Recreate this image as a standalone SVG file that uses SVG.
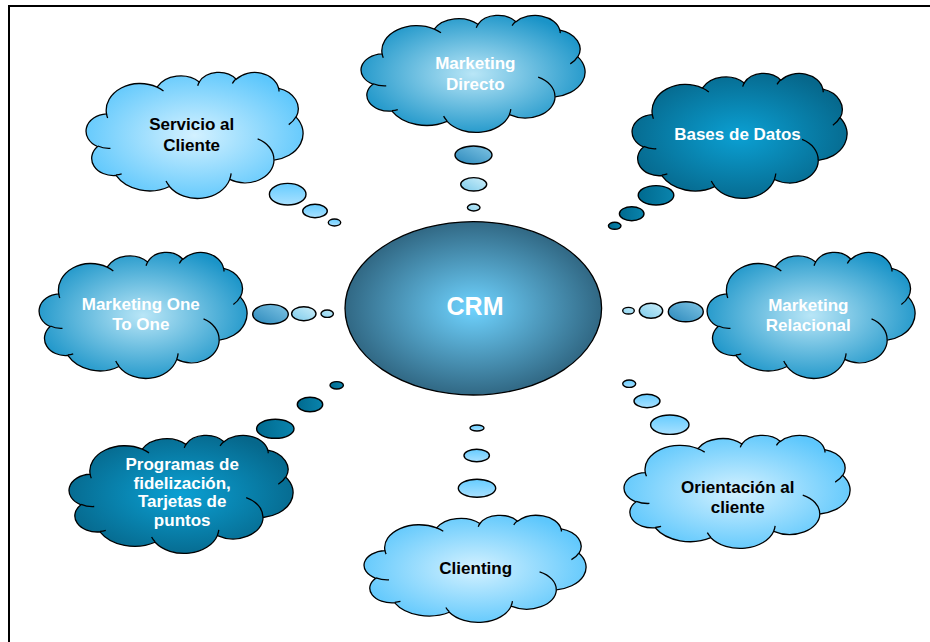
<svg xmlns="http://www.w3.org/2000/svg" width="930" height="642" viewBox="0 0 930 642">
<style>
.cl{stroke:#000;stroke-width:1.3;vector-effect:non-scaling-stroke;}
.cr{fill:none;stroke:#000;stroke-width:1.3;vector-effect:non-scaling-stroke;}
.t{font-family:"Liberation Sans",Arial,sans-serif;font-weight:bold;font-size:17px;text-anchor:middle;}
.w{fill:#fff;}
.k{fill:#000;}
.b{stroke:#000;stroke-width:1.4;}
</style>
<defs>
<radialGradient id="gA" cx="0.5" cy="0.5" r="0.55"><stop offset="0" stop-color="#b9e6f7"/><stop offset="1" stop-color="#1a94c8"/></radialGradient>
<radialGradient id="gB" cx="0.5" cy="0.5" r="0.55"><stop offset="0" stop-color="#d3f1ff"/><stop offset="1" stop-color="#5dc7fc"/></radialGradient>
<radialGradient id="gC" cx="0.5" cy="0.5" r="0.55"><stop offset="0" stop-color="#0ba0d3"/><stop offset="1" stop-color="#06678b"/></radialGradient>
<radialGradient id="gCRM" cx="0.5" cy="0.5" r="0.5"><stop offset="0" stop-color="#6fd3ff"/><stop offset="1" stop-color="#316884"/></radialGradient>
<linearGradient id="bA1" x1="0" y1="1" x2="1" y2="0"><stop offset="0" stop-color="#2a88bb"/><stop offset="1" stop-color="#80c5e5"/></linearGradient>
<linearGradient id="bA2" x1="0" y1="1" x2="1" y2="0"><stop offset="0" stop-color="#7ccaea"/><stop offset="1" stop-color="#cdeffa"/></linearGradient>
<linearGradient id="bA3" x1="0" y1="1" x2="1" y2="0"><stop offset="0" stop-color="#8fd4f0"/><stop offset="1" stop-color="#bde8f7"/></linearGradient>
<linearGradient id="bB" x1="0" y1="0" x2="0" y2="1"><stop offset="0" stop-color="#66ccff"/><stop offset="1" stop-color="#a9e1ff"/></linearGradient>
<linearGradient id="bC" x1="0" y1="0" x2="1" y2="0"><stop offset="0" stop-color="#006a8f"/><stop offset="1" stop-color="#0a84ad"/></linearGradient>
</defs>
<rect x="9" y="6" width="960" height="680" fill="#fff" stroke="#000" stroke-width="2"/>

<g id="connectors">
<ellipse class="b" cx="473.5" cy="155" rx="18.5" ry="9" fill="url(#bA1)"/>
<ellipse class="b" cx="473.7" cy="184.3" rx="13" ry="6.7" fill="url(#bA2)"/>
<ellipse class="b" cx="473.7" cy="207.5" rx="6.3" ry="3.5" fill="url(#bA3)"/>
<ellipse class="b" cx="287.7" cy="194.2" rx="18.3" ry="10.8" fill="url(#bB)"/>
<ellipse class="b" cx="315" cy="211" rx="12.3" ry="6.7" fill="url(#bB)"/>
<ellipse class="b" cx="334.5" cy="222.5" rx="6.2" ry="3.5" fill="url(#bB)"/>
<ellipse class="b" cx="656" cy="195.3" rx="17.8" ry="9.7" fill="url(#bC)"/>
<ellipse class="b" cx="631.7" cy="213.7" rx="12.3" ry="7" fill="url(#bC)"/>
<ellipse class="b" cx="614.7" cy="225.8" rx="6.3" ry="3.5" fill="url(#bC)"/>
<ellipse class="b" cx="270.5" cy="314.2" rx="17.8" ry="9.8" fill="url(#bA1)"/>
<ellipse class="b" cx="303.8" cy="313.7" rx="12.2" ry="7" fill="url(#bA2)"/>
<ellipse class="b" cx="327.2" cy="313.7" rx="6.2" ry="3.7" fill="url(#bA3)"/>
<ellipse class="b" cx="685.8" cy="311.7" rx="17.5" ry="10" fill="url(#bA1)"/>
<ellipse class="b" cx="651" cy="310.8" rx="11.7" ry="7.5" fill="url(#bA2)"/>
<ellipse class="b" cx="628.5" cy="310.7" rx="5.8" ry="3.3" fill="url(#bA3)"/>
<ellipse class="b" cx="275.3" cy="428.8" rx="18.7" ry="9.5" fill="url(#bC)"/>
<ellipse class="b" cx="310" cy="404.5" rx="12.7" ry="7.2" fill="url(#bC)"/>
<ellipse class="b" cx="336.7" cy="385.3" rx="6.7" ry="3.7" fill="url(#bC)"/>
<ellipse class="b" cx="477" cy="488.3" rx="18.7" ry="9" fill="url(#bB)"/>
<ellipse class="b" cx="476.7" cy="455.5" rx="12.7" ry="6.2" fill="url(#bB)"/>
<ellipse class="b" cx="477" cy="428" rx="7" ry="3" fill="url(#bB)"/>
<ellipse class="b" cx="669.8" cy="424.7" rx="19.2" ry="9.7" fill="url(#bB)"/>
<ellipse class="b" cx="647" cy="401" rx="13" ry="6.7" fill="url(#bB)"/>
<ellipse class="b" cx="629.2" cy="383.7" rx="6.5" ry="3.7" fill="url(#bB)"/>
</g>

<g id="crm">
<ellipse cx="473.3" cy="308.3" rx="128.3" ry="86.7" fill="url(#gCRM)" stroke="#000" stroke-width="1.3"/>
<text class="t w" x="475" y="315" style="font-size:25px">CRM</text>
</g>

<g id="marketing-directo">
<g transform="translate(362,15) scale(2.23,1.17)">
<path class="cl" fill="url(#gA)" d="M9.03,33.26A15.63,21.27 0 0 1 32.42,12.04A12.35,16.82 0 0 1 51.98,7.94A10.10,13.76 0 0 1 69.06,5.75A11.24,15.27 0 0 1 88.70,12.91A12.35,16.84 0 0 1 96.80,35.79A15.68,21.34 0 0 1 86.58,69.91A13.39,18.21 0 0 1 66.10,85.22A15.63,21.33 0 0 1 38.15,90.90A17.87,24.41 0 0 1 13.44,82.11A10.09,13.70 0 0 1 4.89,59.14A10.06,13.76 0 0 1 9.03,33.26Z"/>
<path class="cr" d="M10.86,60.59A10.06,13.76 0 0 1 5.0,58.75M16.04,80.78A10.09,13.70 0 0 1 13.47,81.67M38.14,90.49A15.63,21.33 0 0 1 36.59,86.45M66.73,80.44A15.63,21.33 0 0 1 66.11,84.86M79.00,53.13A13.39,18.21 0 0 1 86.53,69.65M96.75,35.54A12.35,16.84 0 0 1 93.40,41.74M88.71,12.56A11.24,15.27 0 0 1 88.89,15.49M67.31,9.15A11.24,15.27 0 0 1 69.03,5.41M51.25,10.93A10.10,13.76 0 0 1 52.08,7.71M32.41,12.02A15.63,21.27 0 0 1 35.42,15.14M9.55,36.55A15.63,21.27 0 0 1 9.03,33.26"/>
</g>
<text class="t w" x="475.3" y="69">Marketing</text>
<text class="t w" x="475.3" y="90">Directo</text>
</g>

<g id="servicio-al-cliente">
<g transform="translate(87,72) scale(2.16,1.26)">
<path class="cl" fill="url(#gB)" d="M9.03,33.26A15.63,21.27 0 0 1 32.42,12.04A12.35,16.82 0 0 1 51.98,7.94A10.10,13.76 0 0 1 69.06,5.75A11.24,15.27 0 0 1 88.70,12.91A12.35,16.84 0 0 1 96.80,35.79A15.68,21.34 0 0 1 86.58,69.91A13.39,18.21 0 0 1 66.10,85.22A15.63,21.33 0 0 1 38.15,90.90A17.87,24.41 0 0 1 13.44,82.11A10.09,13.70 0 0 1 4.89,59.14A10.06,13.76 0 0 1 9.03,33.26Z"/>
<path class="cr" d="M10.86,60.59A10.06,13.76 0 0 1 5.0,58.75M16.04,80.78A10.09,13.70 0 0 1 13.47,81.67M38.14,90.49A15.63,21.33 0 0 1 36.59,86.45M66.73,80.44A15.63,21.33 0 0 1 66.11,84.86M79.00,53.13A13.39,18.21 0 0 1 86.53,69.65M96.75,35.54A12.35,16.84 0 0 1 93.40,41.74M88.71,12.56A11.24,15.27 0 0 1 88.89,15.49M67.31,9.15A11.24,15.27 0 0 1 69.03,5.41M51.25,10.93A10.10,13.76 0 0 1 52.08,7.71M32.41,12.02A15.63,21.27 0 0 1 35.42,15.14M9.55,36.55A15.63,21.27 0 0 1 9.03,33.26"/>
</g>
<text class="t k" x="191.7" y="130">Servicio al</text>
<text class="t k" x="191.7" y="151">Cliente</text>
</g>

<g id="bases-de-datos">
<g transform="translate(633,73) scale(2.14,1.25)">
<path class="cl" fill="url(#gC)" d="M9.03,33.26A15.63,21.27 0 0 1 32.42,12.04A12.35,16.82 0 0 1 51.98,7.94A10.10,13.76 0 0 1 69.06,5.75A11.24,15.27 0 0 1 88.70,12.91A12.35,16.84 0 0 1 96.80,35.79A15.68,21.34 0 0 1 86.58,69.91A13.39,18.21 0 0 1 66.10,85.22A15.63,21.33 0 0 1 38.15,90.90A17.87,24.41 0 0 1 13.44,82.11A10.09,13.70 0 0 1 4.89,59.14A10.06,13.76 0 0 1 9.03,33.26Z"/>
<path class="cr" d="M10.86,60.59A10.06,13.76 0 0 1 5.0,58.75M16.04,80.78A10.09,13.70 0 0 1 13.47,81.67M38.14,90.49A15.63,21.33 0 0 1 36.59,86.45M66.73,80.44A15.63,21.33 0 0 1 66.11,84.86M79.00,53.13A13.39,18.21 0 0 1 86.53,69.65M96.75,35.54A12.35,16.84 0 0 1 93.40,41.74M88.71,12.56A11.24,15.27 0 0 1 88.89,15.49M67.31,9.15A11.24,15.27 0 0 1 69.03,5.41M51.25,10.93A10.10,13.76 0 0 1 52.08,7.71M32.41,12.02A15.63,21.27 0 0 1 35.42,15.14M9.55,36.55A15.63,21.27 0 0 1 9.03,33.26"/>
</g>
<text class="t w" x="737.5" y="140">Bases de Datos</text>
</g>

<g id="marketing-one-to-one">
<g transform="translate(40,252) scale(2.07,1.26)">
<path class="cl" fill="url(#gA)" d="M9.03,33.26A15.63,21.27 0 0 1 32.42,12.04A12.35,16.82 0 0 1 51.98,7.94A10.10,13.76 0 0 1 69.06,5.75A11.24,15.27 0 0 1 88.70,12.91A12.35,16.84 0 0 1 96.80,35.79A15.68,21.34 0 0 1 86.58,69.91A13.39,18.21 0 0 1 66.10,85.22A15.63,21.33 0 0 1 38.15,90.90A17.87,24.41 0 0 1 13.44,82.11A10.09,13.70 0 0 1 4.89,59.14A10.06,13.76 0 0 1 9.03,33.26Z"/>
<path class="cr" d="M10.86,60.59A10.06,13.76 0 0 1 5.0,58.75M16.04,80.78A10.09,13.70 0 0 1 13.47,81.67M38.14,90.49A15.63,21.33 0 0 1 36.59,86.45M66.73,80.44A15.63,21.33 0 0 1 66.11,84.86M79.00,53.13A13.39,18.21 0 0 1 86.53,69.65M96.75,35.54A12.35,16.84 0 0 1 93.40,41.74M88.71,12.56A11.24,15.27 0 0 1 88.89,15.49M67.31,9.15A11.24,15.27 0 0 1 69.03,5.41M51.25,10.93A10.10,13.76 0 0 1 52.08,7.71M32.41,12.02A15.63,21.27 0 0 1 35.42,15.14M9.55,36.55A15.63,21.27 0 0 1 9.03,33.26"/>
</g>
<text class="t w" x="140.8" y="310">Marketing One</text>
<text class="t w" x="140.8" y="330">To One</text>
</g>

<g id="marketing-relacional">
<g transform="translate(708,252) scale(2.07,1.26)">
<path class="cl" fill="url(#gA)" d="M9.03,33.26A15.63,21.27 0 0 1 32.42,12.04A12.35,16.82 0 0 1 51.98,7.94A10.10,13.76 0 0 1 69.06,5.75A11.24,15.27 0 0 1 88.70,12.91A12.35,16.84 0 0 1 96.80,35.79A15.68,21.34 0 0 1 86.58,69.91A13.39,18.21 0 0 1 66.10,85.22A15.63,21.33 0 0 1 38.15,90.90A17.87,24.41 0 0 1 13.44,82.11A10.09,13.70 0 0 1 4.89,59.14A10.06,13.76 0 0 1 9.03,33.26Z"/>
<path class="cr" d="M10.86,60.59A10.06,13.76 0 0 1 5.0,58.75M16.04,80.78A10.09,13.70 0 0 1 13.47,81.67M38.14,90.49A15.63,21.33 0 0 1 36.59,86.45M66.73,80.44A15.63,21.33 0 0 1 66.11,84.86M79.00,53.13A13.39,18.21 0 0 1 86.53,69.65M96.75,35.54A12.35,16.84 0 0 1 93.40,41.74M88.71,12.56A11.24,15.27 0 0 1 88.89,15.49M67.31,9.15A11.24,15.27 0 0 1 69.03,5.41M51.25,10.93A10.10,13.76 0 0 1 52.08,7.71M32.41,12.02A15.63,21.27 0 0 1 35.42,15.14M9.55,36.55A15.63,21.27 0 0 1 9.03,33.26"/>
</g>
<text class="t w" x="808.3" y="311">Marketing</text>
<text class="t w" x="808.3" y="331">Relacional</text>
</g>

<g id="programas-de-fidelizacion">
<g transform="translate(70,435) scale(2.23,1.18)">
<path class="cl" fill="url(#gC)" d="M9.03,33.26A15.63,21.27 0 0 1 32.42,12.04A12.35,16.82 0 0 1 51.98,7.94A10.10,13.76 0 0 1 69.06,5.75A11.24,15.27 0 0 1 88.70,12.91A12.35,16.84 0 0 1 96.80,35.79A15.68,21.34 0 0 1 86.58,69.91A13.39,18.21 0 0 1 66.10,85.22A15.63,21.33 0 0 1 38.15,90.90A17.87,24.41 0 0 1 13.44,82.11A10.09,13.70 0 0 1 4.89,59.14A10.06,13.76 0 0 1 9.03,33.26Z"/>
<path class="cr" d="M10.86,60.59A10.06,13.76 0 0 1 5.0,58.75M16.04,80.78A10.09,13.70 0 0 1 13.47,81.67M38.14,90.49A15.63,21.33 0 0 1 36.59,86.45M66.73,80.44A15.63,21.33 0 0 1 66.11,84.86M79.00,53.13A13.39,18.21 0 0 1 86.53,69.65M96.75,35.54A12.35,16.84 0 0 1 93.40,41.74M88.71,12.56A11.24,15.27 0 0 1 88.89,15.49M67.31,9.15A11.24,15.27 0 0 1 69.03,5.41M51.25,10.93A10.10,13.76 0 0 1 52.08,7.71M32.41,12.02A15.63,21.27 0 0 1 35.42,15.14M9.55,36.55A15.63,21.27 0 0 1 9.03,33.26"/>
</g>
<text class="t w" x="182.2" y="470">Programas de</text>
<text class="t w" x="182.2" y="488.5">fidelización,</text>
<text class="t w" x="182.2" y="507">Tarjetas de</text>
<text class="t w" x="182.2" y="525.5">puntos</text>
</g>

<g id="clienting">
<g transform="translate(365,515) scale(2.21,1.07)">
<path class="cl" fill="url(#gB)" d="M9.03,33.26A15.63,21.27 0 0 1 32.42,12.04A12.35,16.82 0 0 1 51.98,7.94A10.10,13.76 0 0 1 69.06,5.75A11.24,15.27 0 0 1 88.70,12.91A12.35,16.84 0 0 1 96.80,35.79A15.68,21.34 0 0 1 86.58,69.91A13.39,18.21 0 0 1 66.10,85.22A15.63,21.33 0 0 1 38.15,90.90A17.87,24.41 0 0 1 13.44,82.11A10.09,13.70 0 0 1 4.89,59.14A10.06,13.76 0 0 1 9.03,33.26Z"/>
<path class="cr" d="M10.86,60.59A10.06,13.76 0 0 1 5.0,58.75M16.04,80.78A10.09,13.70 0 0 1 13.47,81.67M38.14,90.49A15.63,21.33 0 0 1 36.59,86.45M66.73,80.44A15.63,21.33 0 0 1 66.11,84.86M79.00,53.13A13.39,18.21 0 0 1 86.53,69.65M96.75,35.54A12.35,16.84 0 0 1 93.40,41.74M88.71,12.56A11.24,15.27 0 0 1 88.89,15.49M67.31,9.15A11.24,15.27 0 0 1 69.03,5.41M51.25,10.93A10.10,13.76 0 0 1 52.08,7.71M32.41,12.02A15.63,21.27 0 0 1 35.42,15.14M9.55,36.55A15.63,21.27 0 0 1 9.03,33.26"/>
</g>
<text class="t k" x="475.7" y="574.3">Clienting</text>
</g>

<g id="orientacion-al-cliente">
<g transform="translate(625,435) scale(2.25,1.13)">
<path class="cl" fill="url(#gB)" d="M9.03,33.26A15.63,21.27 0 0 1 32.42,12.04A12.35,16.82 0 0 1 51.98,7.94A10.10,13.76 0 0 1 69.06,5.75A11.24,15.27 0 0 1 88.70,12.91A12.35,16.84 0 0 1 96.80,35.79A15.68,21.34 0 0 1 86.58,69.91A13.39,18.21 0 0 1 66.10,85.22A15.63,21.33 0 0 1 38.15,90.90A17.87,24.41 0 0 1 13.44,82.11A10.09,13.70 0 0 1 4.89,59.14A10.06,13.76 0 0 1 9.03,33.26Z"/>
<path class="cr" d="M10.86,60.59A10.06,13.76 0 0 1 5.0,58.75M16.04,80.78A10.09,13.70 0 0 1 13.47,81.67M38.14,90.49A15.63,21.33 0 0 1 36.59,86.45M66.73,80.44A15.63,21.33 0 0 1 66.11,84.86M79.00,53.13A13.39,18.21 0 0 1 86.53,69.65M96.75,35.54A12.35,16.84 0 0 1 93.40,41.74M88.71,12.56A11.24,15.27 0 0 1 88.89,15.49M67.31,9.15A11.24,15.27 0 0 1 69.03,5.41M51.25,10.93A10.10,13.76 0 0 1 52.08,7.71M32.41,12.02A15.63,21.27 0 0 1 35.42,15.14M9.55,36.55A15.63,21.27 0 0 1 9.03,33.26"/>
</g>
<text class="t k" x="737.8" y="492.7">Orientación al</text>
<text class="t k" x="737.8" y="512.7">cliente</text>
</g>
</svg>
